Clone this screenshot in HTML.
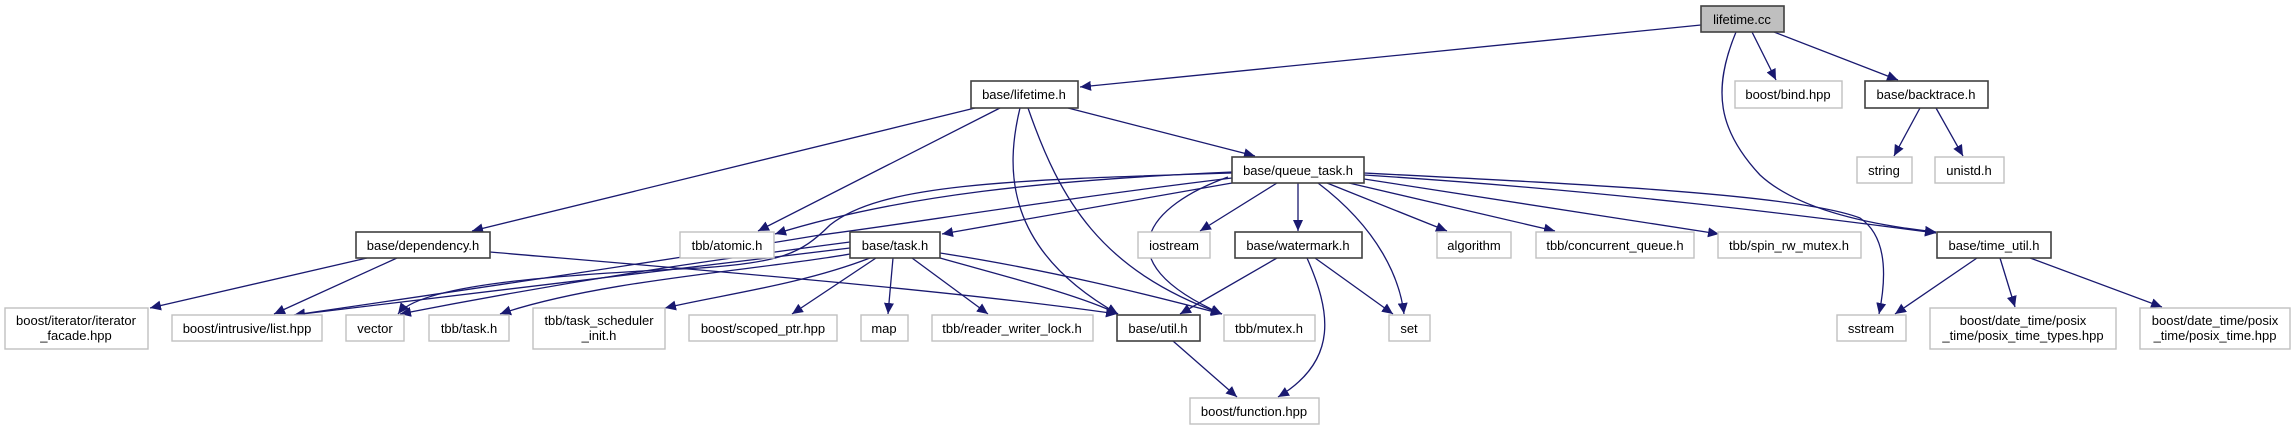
<!DOCTYPE html>
<html><head><meta charset="utf-8"><style>
html,body{margin:0;padding:0;background:#fff;width:2296px;height:425px;overflow:hidden}
svg text{font-family:"Liberation Sans",Arial,sans-serif;font-size:13px;fill:#000;text-anchor:middle}
.b{fill:#fff;stroke:#404040;stroke-width:1.6}
.g{fill:#fff;stroke:#c0c0c0;stroke-width:1.4}
.e{fill:none;stroke:#191970;stroke-width:1.3}
</style></head><body>
<svg width="2296" height="425" viewBox="0 0 2296 425" xmlns="http://www.w3.org/2000/svg">
<defs><marker id="a" markerUnits="userSpaceOnUse" markerWidth="12" markerHeight="10" refX="11" refY="5" orient="auto"><path d="M0,0 L11,5 L0,10 Z" fill="#191970"/></marker></defs>
<g class="e" marker-end="url(#a)">
<path d="M1701,25 L1080,87"/>
<path d="M1752,32 L1776,80"/>
<path d="M1774,32 L1898,80"/>
<path d="M1736,32 C1712,90 1718,130 1760,175 C1800,212 1880,226 1936,232"/>
<path d="M1920,108 L1894,156"/>
<path d="M1936,108 L1963,156"/>
<path d="M975,108 L472,231"/>
<path d="M1000,108 L758,231"/>
<path d="M1020,108 C1005,170 1005,250 1118,314"/>
<path d="M1028,108 C1060,200 1100,270 1222,314"/>
<path d="M1068,108 L1255,156"/>
<path d="M1232,172 C1050,180 900,195 775,234"/>
<path d="M1232,173 C1000,180 880,185 830,225 C800,255 780,262 700,268 C550,275 420,285 398,314"/>
<path d="M1232,178 C1050,200 900,225 820,235 C700,255 500,285 294,315"/>
<path d="M1232,183 L942,234"/>
<path d="M1277,183 L1200,231"/>
<path d="M1298,183 L1298,231"/>
<path d="M1327,183 L1447,231"/>
<path d="M1349,183 L1555,231"/>
<path d="M1364,179 L1719,234"/>
<path d="M1364,175 C1600,190 1800,215 1936,233"/>
<path d="M1364,173 C1600,185 1800,195 1860,218 C1885,235 1888,270 1879,314"/>
<path d="M1318,183 C1380,230 1400,280 1404,314"/>
<path d="M1228,177 C1150,205 1100,260 1222,314"/>
<path d="M850,242 C750,255 600,275 400,314"/>
<path d="M850,248 C700,265 500,290 294,315"/>
<path d="M850,254 C760,270 600,280 500,314"/>
<path d="M870,258 C800,285 720,295 665,308"/>
<path d="M876,258 L792,314"/>
<path d="M893,258 L888,314"/>
<path d="M912,258 L988,314"/>
<path d="M940,258 C1000,275 1080,295 1118,314"/>
<path d="M940,253 C1050,270 1150,295 1222,314"/>
<path d="M490,252 C700,270 950,290 1117,314"/>
<path d="M367,258 L150,308"/>
<path d="M397,258 L274,314"/>
<path d="M1277,258 L1180,314"/>
<path d="M1315,258 L1393,314"/>
<path d="M1307,258 C1330,310 1340,360 1278,397"/>
<path d="M1173,341 L1237,397"/>
<path d="M1977,258 L1895,314"/>
<path d="M2000,258 L2015,307"/>
<path d="M2030,258 L2162,307"/>
</g>
<rect x="1701" y="6" width="83" height="26" fill="#bfbfbf" stroke="#404040" stroke-width="1.6"/><text x="1742" y="24">lifetime.cc</text>
<rect class="b" x="971" y="81" width="107" height="27"/><text x="1024" y="99">base/lifetime.h</text>
<rect class="g" x="1735" y="81" width="107" height="27"/><text x="1788" y="99">boost/bind.hpp</text>
<rect class="b" x="1865" y="81" width="123" height="27"/><text x="1926" y="99">base/backtrace.h</text>
<rect class="b" x="1232" y="157" width="132" height="26"/><text x="1298" y="175">base/queue_task.h</text>
<rect class="g" x="1857" y="157" width="55" height="26"/><text x="1884" y="175">string</text>
<rect class="g" x="1935" y="157" width="69" height="26"/><text x="1969" y="175">unistd.h</text>
<rect class="b" x="356" y="232" width="134" height="26"/><text x="423" y="250">base/dependency.h</text>
<rect class="g" x="680" y="232" width="94" height="26"/><text x="727" y="250">tbb/atomic.h</text>
<rect class="b" x="850" y="232" width="90" height="26"/><text x="895" y="250">base/task.h</text>
<rect class="g" x="1138" y="232" width="72" height="26"/><text x="1174" y="250">iostream</text>
<rect class="b" x="1235" y="232" width="127" height="26"/><text x="1298" y="250">base/watermark.h</text>
<rect class="g" x="1437" y="232" width="74" height="26"/><text x="1474" y="250">algorithm</text>
<rect class="g" x="1536" y="232" width="158" height="26"/><text x="1615" y="250">tbb/concurrent_queue.h</text>
<rect class="g" x="1718" y="232" width="143" height="26"/><text x="1789" y="250">tbb/spin_rw_mutex.h</text>
<rect class="b" x="1937" y="232" width="114" height="26"/><text x="1994" y="250">base/time_util.h</text>
<rect class="g" x="5" y="308" width="143" height="41"/><text x="76" y="325">boost/iterator/iterator</text><text x="76" y="340">_facade.hpp</text>
<rect class="g" x="172" y="315" width="150" height="26"/><text x="247" y="333">boost/intrusive/list.hpp</text>
<rect class="g" x="346" y="315" width="58" height="26"/><text x="375" y="333">vector</text>
<rect class="g" x="429" y="315" width="80" height="26"/><text x="469" y="333">tbb/task.h</text>
<rect class="g" x="533" y="308" width="132" height="41"/><text x="599" y="325">tbb/task_scheduler</text><text x="599" y="340">_init.h</text>
<rect class="g" x="689" y="315" width="148" height="26"/><text x="763" y="333">boost/scoped_ptr.hpp</text>
<rect class="g" x="861" y="315" width="47" height="26"/><text x="884" y="333">map</text>
<rect class="g" x="932" y="315" width="161" height="26"/><text x="1012" y="333">tbb/reader_writer_lock.h</text>
<rect class="b" x="1117" y="315" width="83" height="26"/><text x="1158" y="333">base/util.h</text>
<rect class="g" x="1224" y="315" width="91" height="26"/><text x="1269" y="333">tbb/mutex.h</text>
<rect class="g" x="1389" y="315" width="41" height="26"/><text x="1409" y="333">set</text>
<rect class="g" x="1837" y="315" width="69" height="26"/><text x="1871" y="333">sstream</text>
<rect class="g" x="1930" y="308" width="186" height="41"/><text x="2023" y="325">boost/date_time/posix</text><text x="2023" y="340">_time/posix_time_types.hpp</text>
<rect class="g" x="2140" y="308" width="150" height="41"/><text x="2215" y="325">boost/date_time/posix</text><text x="2215" y="340">_time/posix_time.hpp</text>
<rect class="g" x="1190" y="398" width="129" height="26"/><text x="1254" y="416">boost/function.hpp</text>
</svg>
</body></html>
